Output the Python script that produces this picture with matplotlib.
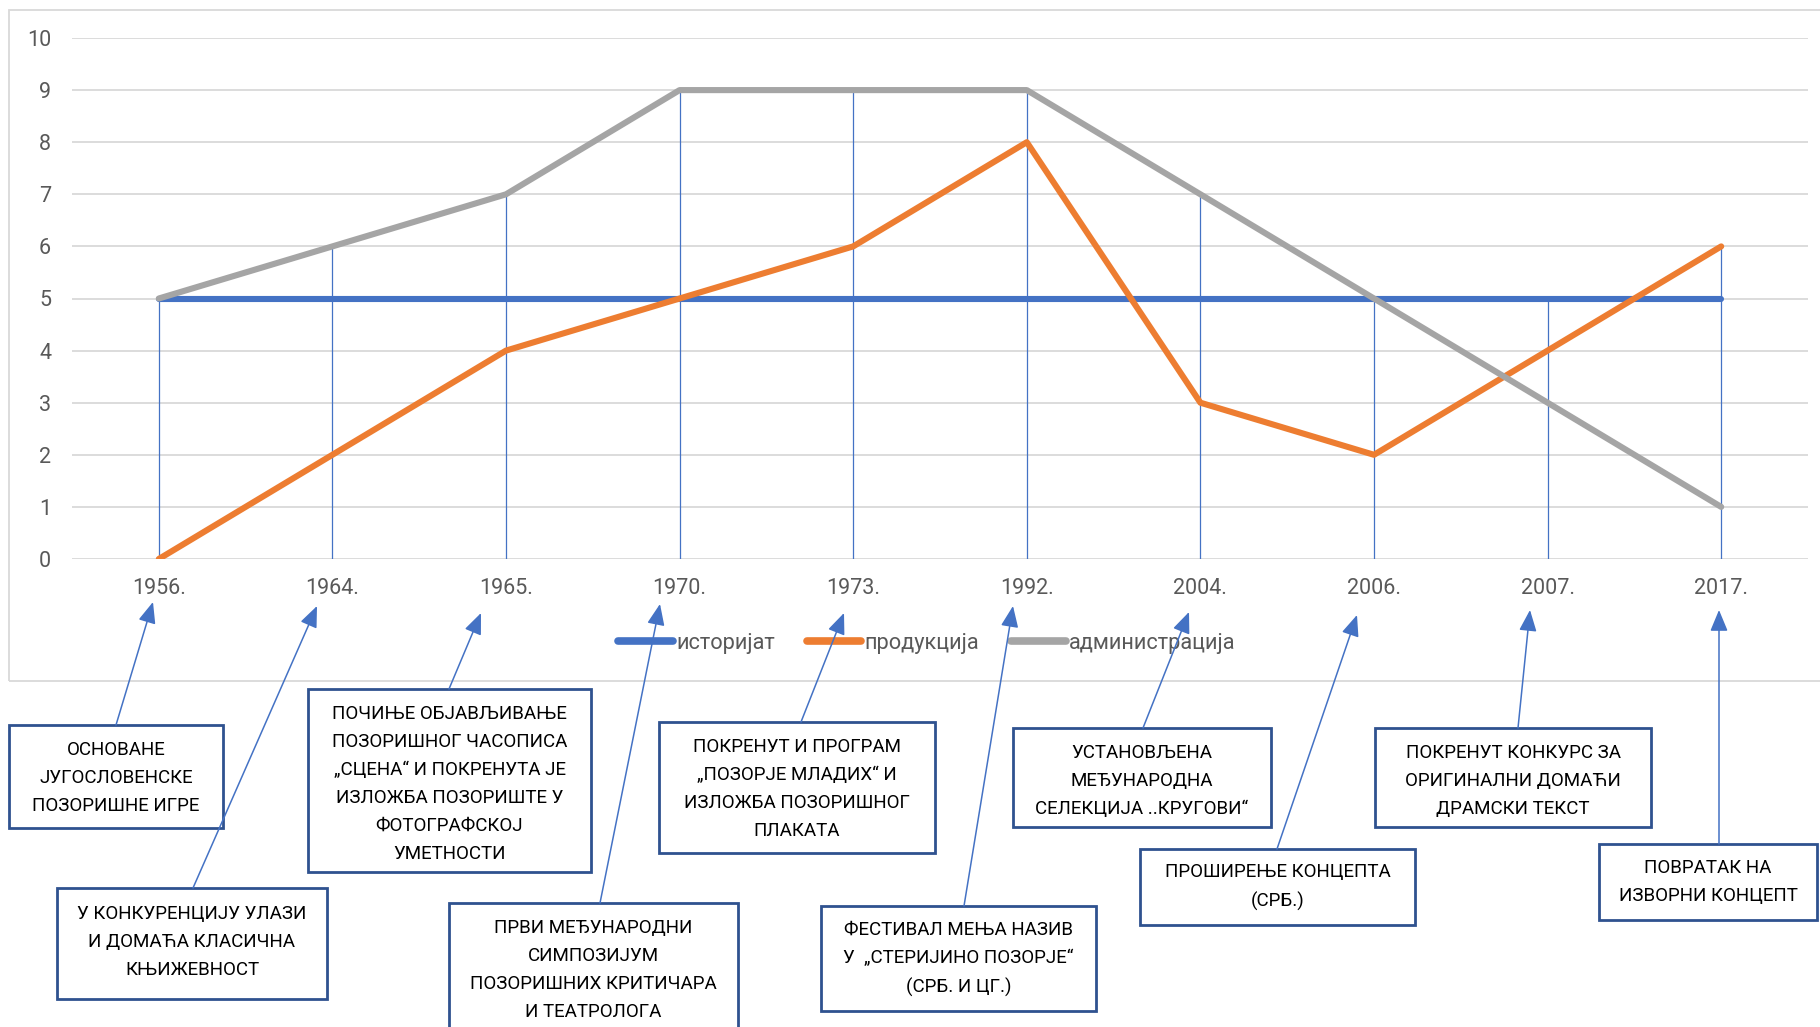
import matplotlib
matplotlib.use('Agg')
import matplotlib.pyplot as plt
from matplotlib.patches import Rectangle, FancyArrowPatch
from matplotlib.lines import Line2D
import numpy as np

# ---------------- data ----------------
categories = ['1956.', '1964.', '1965.', '1970.', '1973.', '1992.',
              '2004.', '2006.', '2007.', '2017.']
istorijat = [5, 5, 5, 5, 5, 5, 5, 5, 5, 5]
produkcija = [0, 2, 4, 5, 6, 8, 3, 2, 4, 6]
administracija = [5, 6, 7, 9, 9, 9, 7, 5, 3, 1]
series_names = ['историјат', 'продукција', 'администрација']
y_ticks = list(range(0, 11))

callout_texts = [
    'ОСНОВАНЕ\nЈУГОСЛОВЕНСКЕ\nПОЗОРИШНЕ ИГРЕ',
    'У КОНКУРЕНЦИЈУ УЛАЗИ\nИ ДОМАЋА КЛАСИЧНА\nКЊИЖЕВНОСТ',
    'ПОЧИЊЕ ОБЈАВЉИВАЊЕ\nПОЗОРИШНОГ ЧАСОПИСА\n„СЦЕНА“ И ПОКРЕНУТА ЈЕ\nИЗЛОЖБА ПОЗОРИШТЕ У\nФОТОГРАФСКОЈ\nУМЕТНОСТИ',
    'ПРВИ МЕЂУНАРОДНИ\nСИМПОЗИЈУМ\nПОЗОРИШНИХ КРИТИЧАРА\nИ ТЕАТРОЛОГА',
    'ПОКРЕНУТ И ПРОГРАМ\n„ПОЗОРЈЕ МЛАДИХ“ И\nИЗЛОЖБА ПОЗОРИШНОГ\nПЛАКАТА',
    'ФЕСТИВАЛ МЕЊА НАЗИВ\nУ  „СТЕРИЈИНО ПОЗОРЈЕ“\n(СРБ. И ЦГ.)',
    'УСТАНОВЉЕНА\nМЕЂУНАРОДНА\nСЕЛЕКЦИЈА ..КРУГОВИ“',
    'ПРОШИРЕЊЕ КОНЦЕПТА\n(СРБ.)',
    'ПОКРЕНУТ КОНКУРС ЗА\nОРИГИНАЛНИ ДОМАЋИ\nДРАМСКИ ТЕКСТ',
    'ПОВРАТАК НА\nИЗВОРНИ КОНЦЕПТ',
]

# ---------------- layout (figure pixels, origin top-left) ----------------
# box: (left, top, right, bottom), text centre y, arrow start (x, y), arrow tip (x, y)
callout_layout = [
    ((9, 725, 223, 828), 778, (116, 725), (153, 602)),
    ((57, 888, 327, 999), 942, (193, 888), (317, 606)),
    ((308, 689, 591, 872), 784, (449, 689), (481, 613)),
    ((449, 903, 738, 1060), 970, (600, 903), (660, 604)),
    ((659, 722, 935, 853), 789, (801, 722), (844, 613)),
    ((821, 906, 1096, 1011), 959, (964, 906), (1013, 606)),
    ((1013, 728, 1271, 827), 781, (1143, 728), (1189, 612)),
    ((1140, 849, 1415, 925), 887, (1277, 849), (1357, 615)),
    ((1375, 728, 1651, 827), 781, (1518, 728), (1530, 610)),
    ((1599, 844, 1817, 920), 882, (1719, 844), (1719, 610)),
]

W, H = 1820, 1027
FONT = ['Roboto', 'DejaVu Sans']
plt.rcParams['font.family'] = FONT

fig = plt.figure(figsize=(W / 100, H / 100), dpi=100)
fig.patch.set_facecolor('white')


def fx(px):
    return px / W


def fy(py):
    return 1 - py / H


# outer chart-area border
fig.patches.append(Rectangle((fx(9), fy(681)), fx(1840) - fx(9), fy(10) - fy(681),
                             transform=fig.transFigure, fill=False,
                             edgecolor='#D9D9D9', lw=1.3, zorder=0))

ax = fig.add_axes([fx(72), fy(559), fx(1808) - fx(72), fy(38) - fy(559)])
ax.set_facecolor('none')
x = np.arange(len(categories))
ax.set_xlim(-0.5, len(categories) - 0.5)
ax.set_ylim(0, 10)

for s in ax.spines.values():
    s.set_visible(False)
ax.set_yticks(y_ticks)
ax.yaxis.grid(True, color='#D9D9D9', lw=1.3)
ax.set_axisbelow(True)
ax.tick_params(axis='both', length=0, labelsize=15.5, labelcolor='#595959')
ax.tick_params(axis='y', pad=15)
ax.tick_params(axis='x', pad=14)
ax.set_xticks(x)
ax.set_xticklabels(categories)

colors = ['#4472C4', '#ED7D31', '#A5A5A5']
all_series = [istorijat, produkcija, administracija]

# drop lines from the highest point of each category to the axis
maxvals = np.max(np.array(all_series), axis=0)
ax.vlines(x, 0, maxvals, color='#4472C4', lw=0.9, zorder=2)

handles = []
for vals, c, name in zip(all_series, colors, series_names):
    ax.plot(x, vals, color=c, lw=4.4, solid_capstyle='round',
            solid_joinstyle='round', zorder=3, label=name)
    handles.append(Line2D([0], [0], color=c, lw=5.5, solid_capstyle='round'))

fig.legend(handles, series_names, loc='center', bbox_to_anchor=(fx(927), fy(643)),
           ncol=3, frameon=False, handlelength=2.5, handletextpad=0.16,
           columnspacing=1.45, fontsize=15.7, labelcolor='#595959')

# callouts
for text, (box, ty, start, tip) in zip(callout_texts, callout_layout):
    l, t, r, b = box
    fig.patches.append(Rectangle((fx(l), fy(b)), fx(r) - fx(l), fy(t) - fy(b),
                                 transform=fig.transFigure, facecolor='white',
                                 edgecolor='#2F528F', lw=2.0, zorder=4))
    fig.text(fx((l + r) / 2), fy(ty), text, ha='center', va='center',
             fontsize=13.5, color='black', linespacing=1.72, zorder=5)
    arr = FancyArrowPatch((fx(start[0]), fy(start[1])), (fx(tip[0]), fy(tip[1])),
                          transform=fig.transFigure,
                          arrowstyle='-|>,head_length=0.65,head_width=0.27',
                          mutation_scale=20, color='#4472C4', lw=1.1,
                          shrinkA=0, shrinkB=0, zorder=6)
    fig.patches.append(arr)

fig.savefig('out.png', dpi=100, facecolor='white')
